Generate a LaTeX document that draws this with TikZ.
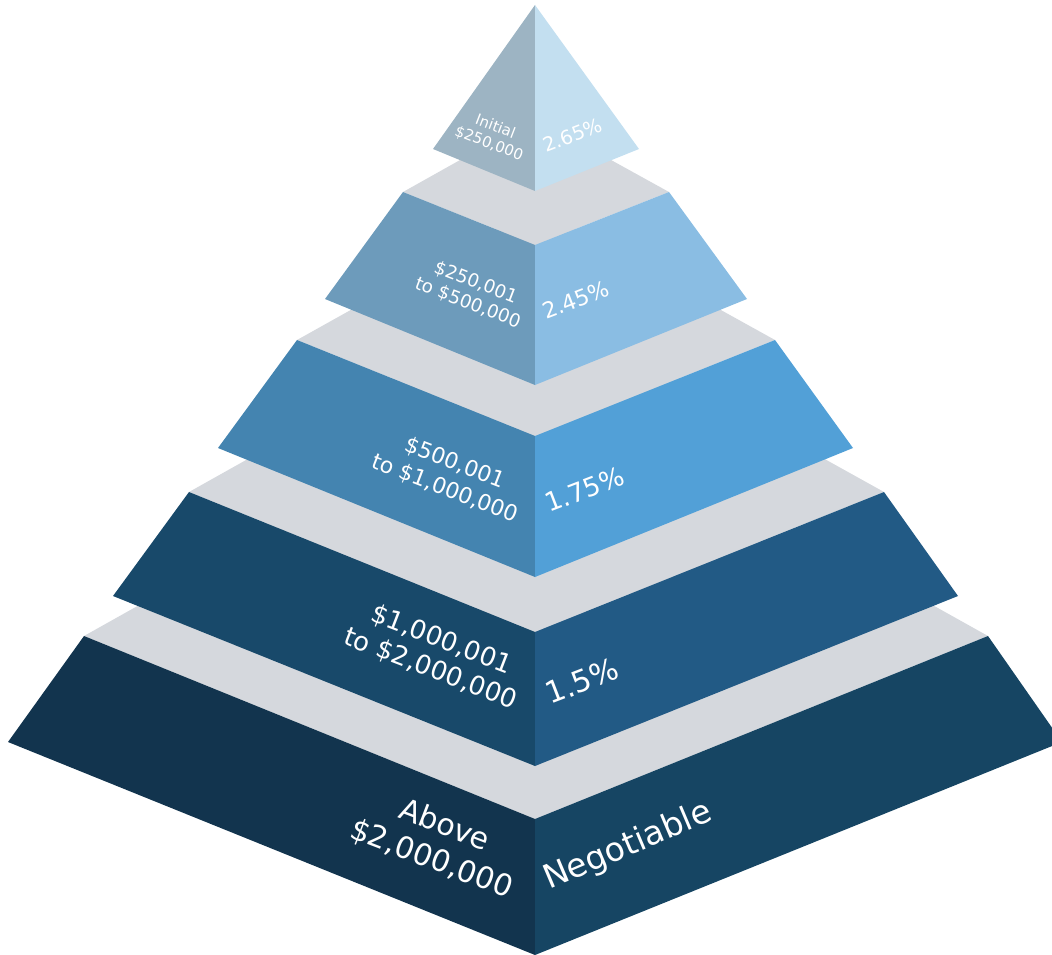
\documentclass[tikz,border=0pt]{standalone}
\usepackage{fontspec}
\setmainfont{DejaVu Sans}

\definecolor{stepgray}{HTML}{D5D8DD}
\definecolor{tipleft}{HTML}{9DB4C3}
\definecolor{tipright}{HTML}{C3DFF0}
\definecolor{twoleft}{HTML}{6D9BBB}
\definecolor{tworight}{HTML}{8ABDE3}
\definecolor{threeleft}{HTML}{4484B0}
\definecolor{threeright}{HTML}{52A0D7}
\definecolor{fourleft}{HTML}{18496A}
\definecolor{fourright}{HTML}{225A85}
\definecolor{baseleft}{HTML}{12344E}
\definecolor{baseright}{HTML}{164563}

\tikzset{
	lefttext/.style={text=white, inner sep=0pt, align=center, anchor=south east, rotate=-21},
	righttext/.style={text=white, inner sep=0pt, anchor=base west, rotate=21},
}

\begin{document}
\begin{tikzpicture}[x=1pt,y=-1pt]
	\useasboundingbox (0,0) rectangle (1052,955);
	\clip (0,0) rectangle (1052,955);

	% base layer
	\coordinate (bk5) at (535,383);
	\coordinate (tl5) at (84,636);
	\coordinate (tf5) at (535,819);
	\coordinate (tr5) at (988,636);
	\coordinate (bl5) at (8,742);
	\coordinate (bf5) at (535,955);
	\coordinate (br5) at (1062,742);
	\fill[stepgray] (tl5) -- (bk5) -- (tr5) -- (tf5) -- cycle;
	\fill[baseleft] (tl5) -- (tf5) -- (bf5) -- (bl5) -- cycle;
	\fill[baseright] (tf5) -- (tr5) -- (br5) -- (bf5) -- cycle;

	% fourth layer
	\coordinate (bk4) at (535,298);
	\coordinate (tl4) at (189,492);
	\coordinate (tf4) at (535,632);
	\coordinate (tr4) at (884,492);
	\coordinate (bl4) at (113,596);
	\coordinate (bf4) at (535,766);
	\coordinate (br4) at (958,596);
	\fill[stepgray] (tl4) -- (bk4) -- (tr4) -- (tf4) -- cycle;
	\fill[fourleft] (tl4) -- (tf4) -- (bf4) -- (bl4) -- cycle;
	\fill[fourright] (tf4) -- (tr4) -- (br4) -- (bf4) -- cycle;

	% third layer
	\coordinate (bk3) at (535,207);
	\coordinate (tl3) at (297,340);
	\coordinate (tf3) at (535,436);
	\coordinate (tr3) at (775,340);
	\coordinate (bl3) at (218,448);
	\coordinate (bf3) at (535,577);
	\coordinate (br3) at (853,448);
	\fill[stepgray] (tl3) -- (bk3) -- (tr3) -- (tf3) -- cycle;
	\fill[threeleft] (tl3) -- (tf3) -- (bf3) -- (bl3) -- cycle;
	\fill[threeright] (tf3) -- (tr3) -- (br3) -- (bf3) -- cycle;

	% second layer
	\coordinate (bk2) at (535,118);
	\coordinate (tl2) at (403,192);
	\coordinate (tf2) at (535,245);
	\coordinate (tr2) at (669,192);
	\coordinate (bl2) at (325,299);
	\coordinate (bf2) at (535,385);
	\coordinate (br2) at (747,299);
	\fill[stepgray] (tl2) -- (bk2) -- (tr2) -- (tf2) -- cycle;
	\fill[twoleft] (tl2) -- (tf2) -- (bf2) -- (bl2) -- cycle;
	\fill[tworight] (tf2) -- (tr2) -- (br2) -- (bf2) -- cycle;

	% tip
	\coordinate (a1) at (535,5);
	\coordinate (l1) at (433,149);
	\coordinate (f1) at (535,191);
	\coordinate (r1) at (639,149);
	\fill[tipleft] (a1) -- (l1) -- (f1) -- cycle;
	\fill[tipright] (a1) -- (f1) -- (r1) -- cycle;

	% labels
	\node[lefttext, font=\fontsize{30}{36}\selectfont] (amt5) at (507,903) {Above\\\$2,000,000};
	\node[righttext, rotate=2, font=\fontsize{33}{39}\selectfont] (fee5) at (549,890) {Negotiable};

	\node[lefttext, font=\fontsize{26}{31}\selectfont] (amt4) at (512,713) {\$1,000,001\\to \$2,000,000};
	\node[righttext, font=\fontsize{30}{35}\selectfont] (fee4) at (550,705) {1.5\%};

	\node[lefttext, font=\fontsize{22}{27}\selectfont] (amt3) at (514,526) {\$500,001\\to \$1,000,000};
	\node[righttext, font=\fontsize{26}{31}\selectfont] (fee3) at (549,513) {1.75\%};

	\node[lefttext, font=\fontsize{18.3}{22}\selectfont] (amt2) at (517,331) {\$250,001\\to \$500,000};
	\node[righttext, font=\fontsize{22}{26}\selectfont] (fee2) at (546,320) {2.45\%};

	\node[lefttext, font=\fontsize{15}{18}\selectfont] (amt1) at (520,163) {Initial\\\$250,000};
	\node[righttext, font=\fontsize{19.5}{23}\selectfont] (fee1) at (546,153) {2.65\%};

\end{tikzpicture}
\end{document}
